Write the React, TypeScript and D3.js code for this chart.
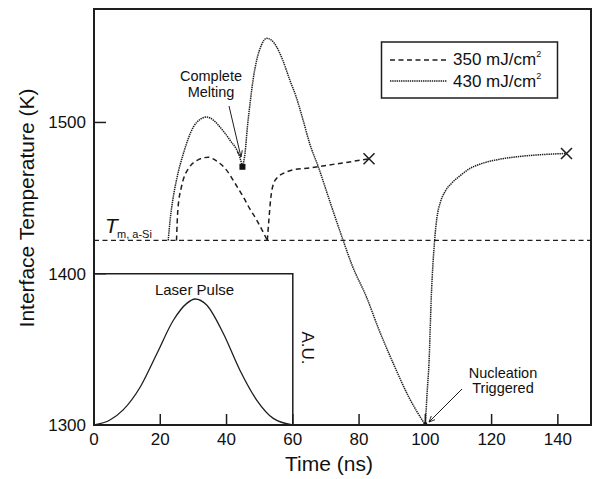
import React from "react";
import * as d3 from "d3";

type Pt = [number, number];

// 350 mJ/cm2 (dashed), two branches
const low350Melt: Pt[] = [
  [24.9, 1422], [25.3, 1442], [26.4, 1457.5], [28.9, 1470.7], [31, 1474.8],
  [34.5, 1477], [37, 1474.5], [40, 1468.5], [42.5, 1460], [45, 1451],
  [47, 1443], [49.1, 1435.5], [52.3, 1422],
];
const low350Regrow: Pt[] = [
  [52.3, 1422], [52.8, 1436], [53.3, 1449], [54.1, 1459], [55.5, 1464],
  [57.1, 1466.3], [60, 1468.6], [65.1, 1470], [70, 1471.6], [75, 1473.2], [83, 1476],
];

// 430 mJ/cm2 (dotted), three branches
const high430Melt: Pt[] = [
  [22.4, 1422], [23.0, 1436], [23.8, 1449], [25, 1463], [27, 1479.6],
  [30, 1497], [32, 1502], [34, 1503.6], [36, 1501.6], [38, 1497],
  [41, 1488.4], [44, 1477], [44.8, 1470.7],
];
const high430Liquid: Pt[] = [
  [44.8, 1470.7], [45.6, 1480], [46.3, 1497], [47.1, 1512.6], [48, 1528],
  [49.1, 1541.2], [50.5, 1551], [52.1, 1555.6], [53.5, 1554.5], [55.1, 1550],
  [57, 1541], [59.1, 1528], [61, 1517], [63.1, 1501.6], [65.1, 1486],
  [67.7, 1470.7], [71, 1449], [75.2, 1422], [78, 1405], [82.2, 1384.8],
  [86, 1363], [90.3, 1340.8], [95, 1318.5], [100, 1300],
];
const high430Solid: Pt[] = [
  [100, 1300], [100.5, 1320], [101.1, 1340.8], [101.8, 1384.8], [102.8, 1422],
  [103.5, 1437], [104.5, 1447], [106, 1454.5], [108, 1460], [110.5, 1464.8],
  [113.4, 1469.5], [117, 1472.8], [122, 1475.5], [127.5, 1477.3], [135, 1478.7],
  [142.6, 1479.5],
];

// laser pulse (arbitrary units, drawn on the temperature axis)
const pulse: Pt[] = [
  [0, 1300], [4.8, 1303.3], [8.8, 1310], [14, 1325.3], [19, 1347.3],
  [24, 1369.4], [28, 1380.4], [30.5, 1383.3], [34, 1379.3], [39, 1360.6],
  [44, 1336.4], [49.1, 1316.5], [54.1, 1304.4], [60, 1300],
];

const tMelt = 1422;
const xTicks = [0, 20, 40, 60, 80, 100, 120, 140];
const yTicks = [1300, 1400, 1500];
const ends: Pt[] = [[83, 1476], [142.6, 1479.5]];
const completeMelt: Pt = [44.8, 1470.7];

const W = 594;
const H = 479;
const left = 94, right = 591, top = 9, bottom = 425;
const ink = "#1e1e1e";
const font = "Arial, 'Liberation Sans', sans-serif";

export default function App() {
  const x = d3.scaleLinear().domain([0, 150]).range([left, right]);
  const y = d3.scaleLinear().domain([1300, 1575]).range([bottom, top]);
  const line = d3
    .line<Pt>()
    .x((d) => x(d[0]))
    .y((d) => y(d[1]))
    .curve(d3.curveMonotoneX);

  const dashed = "5 3.5";
  const dotted = "1.4 0.8";

  const cross = (p: Pt, i: number) => {
    const cx = x(p[0]), cy = y(p[1]), r = 5.5;
    return (
      <path
        key={i}
        d={`M${cx - r},${cy - r}L${cx + r},${cy + r}M${cx - r},${cy + r}L${cx + r},${cy - r}`}
        stroke={ink}
        strokeWidth={1.5}
      />
    );
  };

  return (
    <svg
      width={W}
      height={H}
      style={{ position: "absolute", left: 0, top: 0, background: "#fff" }}
      fontFamily={font}
    >
      <defs>
        <marker id="arr" viewBox="0 0 10 10" refX="9" refY="5" markerWidth="7" markerHeight="7" orient="auto">
          <path d="M0,1 L9,5 L0,9" fill="none" stroke={ink} strokeWidth={1.3} />
        </marker>
      </defs>

      {/* melting temperature of a-Si */}
      <line x1={x(0)} x2={x(150)} y1={y(tMelt)} y2={y(tMelt)} stroke={ink} strokeWidth={1.2} strokeDasharray={dashed} />
      <text x={105} y={233} fontSize={21} fontStyle="italic" fill="#111">T</text>
      <text x={117} y={238} fontSize={11} fill="#111">m, a-Si</text>

      {/* laser pulse inset */}
      <path d={`M${x(0)},${y(1400)}H${x(60)}V${y(1300)}`} fill="none" stroke={ink} strokeWidth={1.5} />
      <path d={line(pulse) || ""} fill="none" stroke={ink} strokeWidth={1.3} />
      <text x={194.5} y={294.5} fontSize={15} textAnchor="middle" fill="#111">Laser Pulse</text>
      <text transform="translate(302,348) rotate(90)" fontSize={17} textAnchor="middle" fill="#111">A.U.</text>

      {/* curves */}
      {[low350Melt, low350Regrow].map((s, i) => (
        <path key={"l" + i} d={line(s) || ""} fill="none" stroke={ink} strokeWidth={1.5} strokeDasharray={dashed} />
      ))}
      {[high430Melt, high430Liquid, high430Solid].map((s, i) => (
        <path key={"h" + i} d={line(s) || ""} fill="none" stroke={ink} strokeWidth={1.5} strokeDasharray={dotted} />
      ))}
      {ends.map(cross)}
      <rect x={x(completeMelt[0]) - 3} y={y(completeMelt[1]) - 3} width={6} height={6} fill="#111" />
      <circle cx={x(100)} cy={y(1300) - 1} r={2} fill="#111" />

      {/* annotations */}
      <text x={211} y={81} fontSize={14.5} textAnchor="middle" fill="#111">Complete</text>
      <text x={211} y={97} fontSize={14.5} textAnchor="middle" fill="#111">Melting</text>
      <line x1={229} y1={106} x2={241} y2={157} stroke={ink} strokeWidth={1} markerEnd="url(#arr)" />
      <text x={503} y={378} fontSize={14.5} textAnchor="middle" fill="#111">Nucleation</text>
      <text x={503} y={393} fontSize={14.5} textAnchor="middle" fill="#111">Triggered</text>
      <line x1={462} y1={389} x2={429} y2={422} stroke={ink} strokeWidth={1} markerEnd="url(#arr)" />

      {/* frame */}
      <rect x={left} y={top} width={right - left} height={bottom - top} fill="none" stroke={ink} strokeWidth={2} />

      {/* ticks */}
      {xTicks.filter((t) => t > 0).map((t) => (
        <line key={t} x1={x(t)} x2={x(t)} y1={bottom} y2={bottom - 11} stroke={ink} strokeWidth={1.5} />
      ))}
      {yTicks.filter((t) => t > 1300).map((t) => (
        <line key={t} x1={left} x2={left + 12} y1={y(t)} y2={y(t)} stroke={ink} strokeWidth={1.5} />
      ))}
      {xTicks.map((t) => (
        <text key={t} x={x(t)} y={445} fontSize={17} textAnchor="middle" fill="#111">{t}</text>
      ))}
      {yTicks.map((t) => (
        <text key={t} x={86} y={y(t) + 6} fontSize={17} textAnchor="end" fill="#111">{t}</text>
      ))}

      {/* axis titles */}
      <text x={329} y={471} fontSize={21} textAnchor="middle" fill="#111">Time (ns)</text>
      <text transform="translate(34,208) rotate(-90)" fontSize={21} textAnchor="middle" fill="#111">
        Interface Temperature (K)
      </text>

      {/* legend */}
      <rect x={381.5} y={42} width={176} height={56} fill="#fff" stroke={ink} strokeWidth={1.5} />
      <line x1={390} x2={447} y1={60} y2={60} stroke={ink} strokeWidth={1.3} strokeDasharray={dashed} />
      <line x1={390} x2={447} y1={81} y2={81} stroke={ink} strokeWidth={1.3} strokeDasharray={dotted} />
      <text x={453} y={65} fontSize={17} fill="#111">
        350 mJ/cm<tspan fontSize={9} dy={-8}>2</tspan>
      </text>
      <text x={453} y={87} fontSize={17} fill="#111">
        430 mJ/cm<tspan fontSize={9} dy={-8}>2</tspan>
      </text>
    </svg>
  );
}
